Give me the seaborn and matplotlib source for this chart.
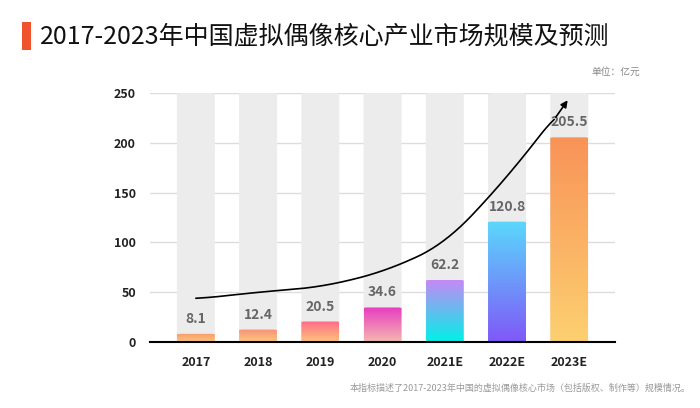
import matplotlib.pyplot as plt
import numpy as np
import pandas as pd
import seaborn as sns
from matplotlib.patches import FancyBboxPatch, Rectangle

years = ["2017", "2018", "2019", "2020", "2021E", "2022E", "2023E"]
values = [8.1, 12.4, 20.5, 34.6, 62.2, 120.8, 205.5]
trend = [43, 50, 55, 70, 98, 165, 245]
top_colors = ["#f79a6b", "#f7917a", "#ff6b8a", "#e83cc0", "#c58af5", "#5ad8fc", "#f89358"]
bottom_colors = ["#fdc57a", "#fdc77a", "#fdc47a", "#f5b8b0", "#00f0e8", "#8058f8", "#fdd070"]

sns.set_theme(style="white")
plt.rcParams["font.family"] = ["Noto Sans CJK SC", "DejaVu Sans"]

fig = plt.figure(figsize=(7, 4.08), dpi=100)
ax = fig.add_axes([0.214, 0.162, 0.665, 0.61])

df = pd.DataFrame({"year": years, "bg": [250] * len(years)})
sns.barplot(data=df, x="year", y="bg", color="#ebebeb", width=0.6, ax=ax, zorder=1)
for p in ax.patches:
    p.set_visible(False)
w = 0.61
for i, v in enumerate(values):
    bg = FancyBboxPatch((i - w / 2, 0), w, 250, boxstyle="round,pad=0,rounding_size=0.08",
                        mutation_aspect=12, fc="#ececec", ec="none", zorder=1)
    ax.add_patch(bg)
    clip = FancyBboxPatch((i - w / 2, 0), w, v, boxstyle="round,pad=0,rounding_size=0.06",
                          mutation_aspect=12, fc="none", ec="none", zorder=2)
    ax.add_patch(clip)
    c1 = np.array(plt.matplotlib.colors.to_rgb(top_colors[i]))
    c2 = np.array(plt.matplotlib.colors.to_rgb(bottom_colors[i]))
    t = np.linspace(0, 1, 100)[:, None]
    grad = (c1 * (1 - t) + c2 * t)[:, None, :]
    im = ax.imshow(grad, extent=(i - w / 2, i + w / 2, 0, v), aspect="auto", zorder=2)
    im.set_clip_path(clip)
    ax.text(i, v + 8, f"{v}", ha="center", va="bottom", fontsize=10, color="#666666",
            fontweight="bold", zorder=4)

xs = np.arange(len(years))
xf = np.linspace(0, len(years) - 1, 200)
yf = np.interp(xf, xs, trend)
# smooth with a short moving average to soften the corners
k = 15
yp = np.pad(yf, k, mode="edge")
ys = np.convolve(yp, np.ones(2 * k + 1) / (2 * k + 1), mode="same")[k:-k]
ys[-1] = trend[-1]
ax.plot(xf[:-8], ys[:-8], color="black", lw=1.2, zorder=5)
ax.annotate("", xy=(xf[-1], trend[-1]), xytext=(xf[-9], ys[-9]),
            arrowprops=dict(arrowstyle="-|>", color="black", lw=1.2, mutation_scale=10), zorder=5)

ax.set_ylim(0, 250)
ax.set_xlim(-0.74, 6.74)
ax.set_yticks([0, 50, 100, 150, 200, 250])
ax.yaxis.grid(True, color="#dddddd", lw=1)
ax.set_axisbelow(True)
for s in ["top", "right", "left"]:
    ax.spines[s].set_visible(False)
ax.spines["bottom"].set_color("black")
ax.spines["bottom"].set_linewidth(1.5)
ax.set_xlabel("")
ax.set_ylabel("")
ax.tick_params(axis="both", length=0, labelsize=9, colors="#222222", pad=10)
for lab in ax.get_xticklabels() + ax.get_yticklabels():
    lab.set_fontweight("bold")

fig.patches.append(Rectangle((22 / 700, 1 - 50 / 408), 9 / 700, 28 / 408,
                             transform=fig.transFigure, fc="#f0522e", ec="none"))
fig.text(40 / 700, 1 - 37 / 408, "2017-2023年中国虚拟偶像核心产业市场规模及预测",
         fontsize=18, va="center", ha="left", color="#111111")
fig.text(640 / 700, 1 - 72 / 408, "单位：亿元", fontsize=7, color="#888888", ha="right", va="center")
fig.text(690 / 700, 1 - 388 / 408, "本指标描述了2017-2023年中国的虚拟偶像核心市场（包括版权、制作等）规模情况。",
         fontsize=6.5, color="#999999", ha="right", va="center")

fig.savefig("out.png", dpi=100)
